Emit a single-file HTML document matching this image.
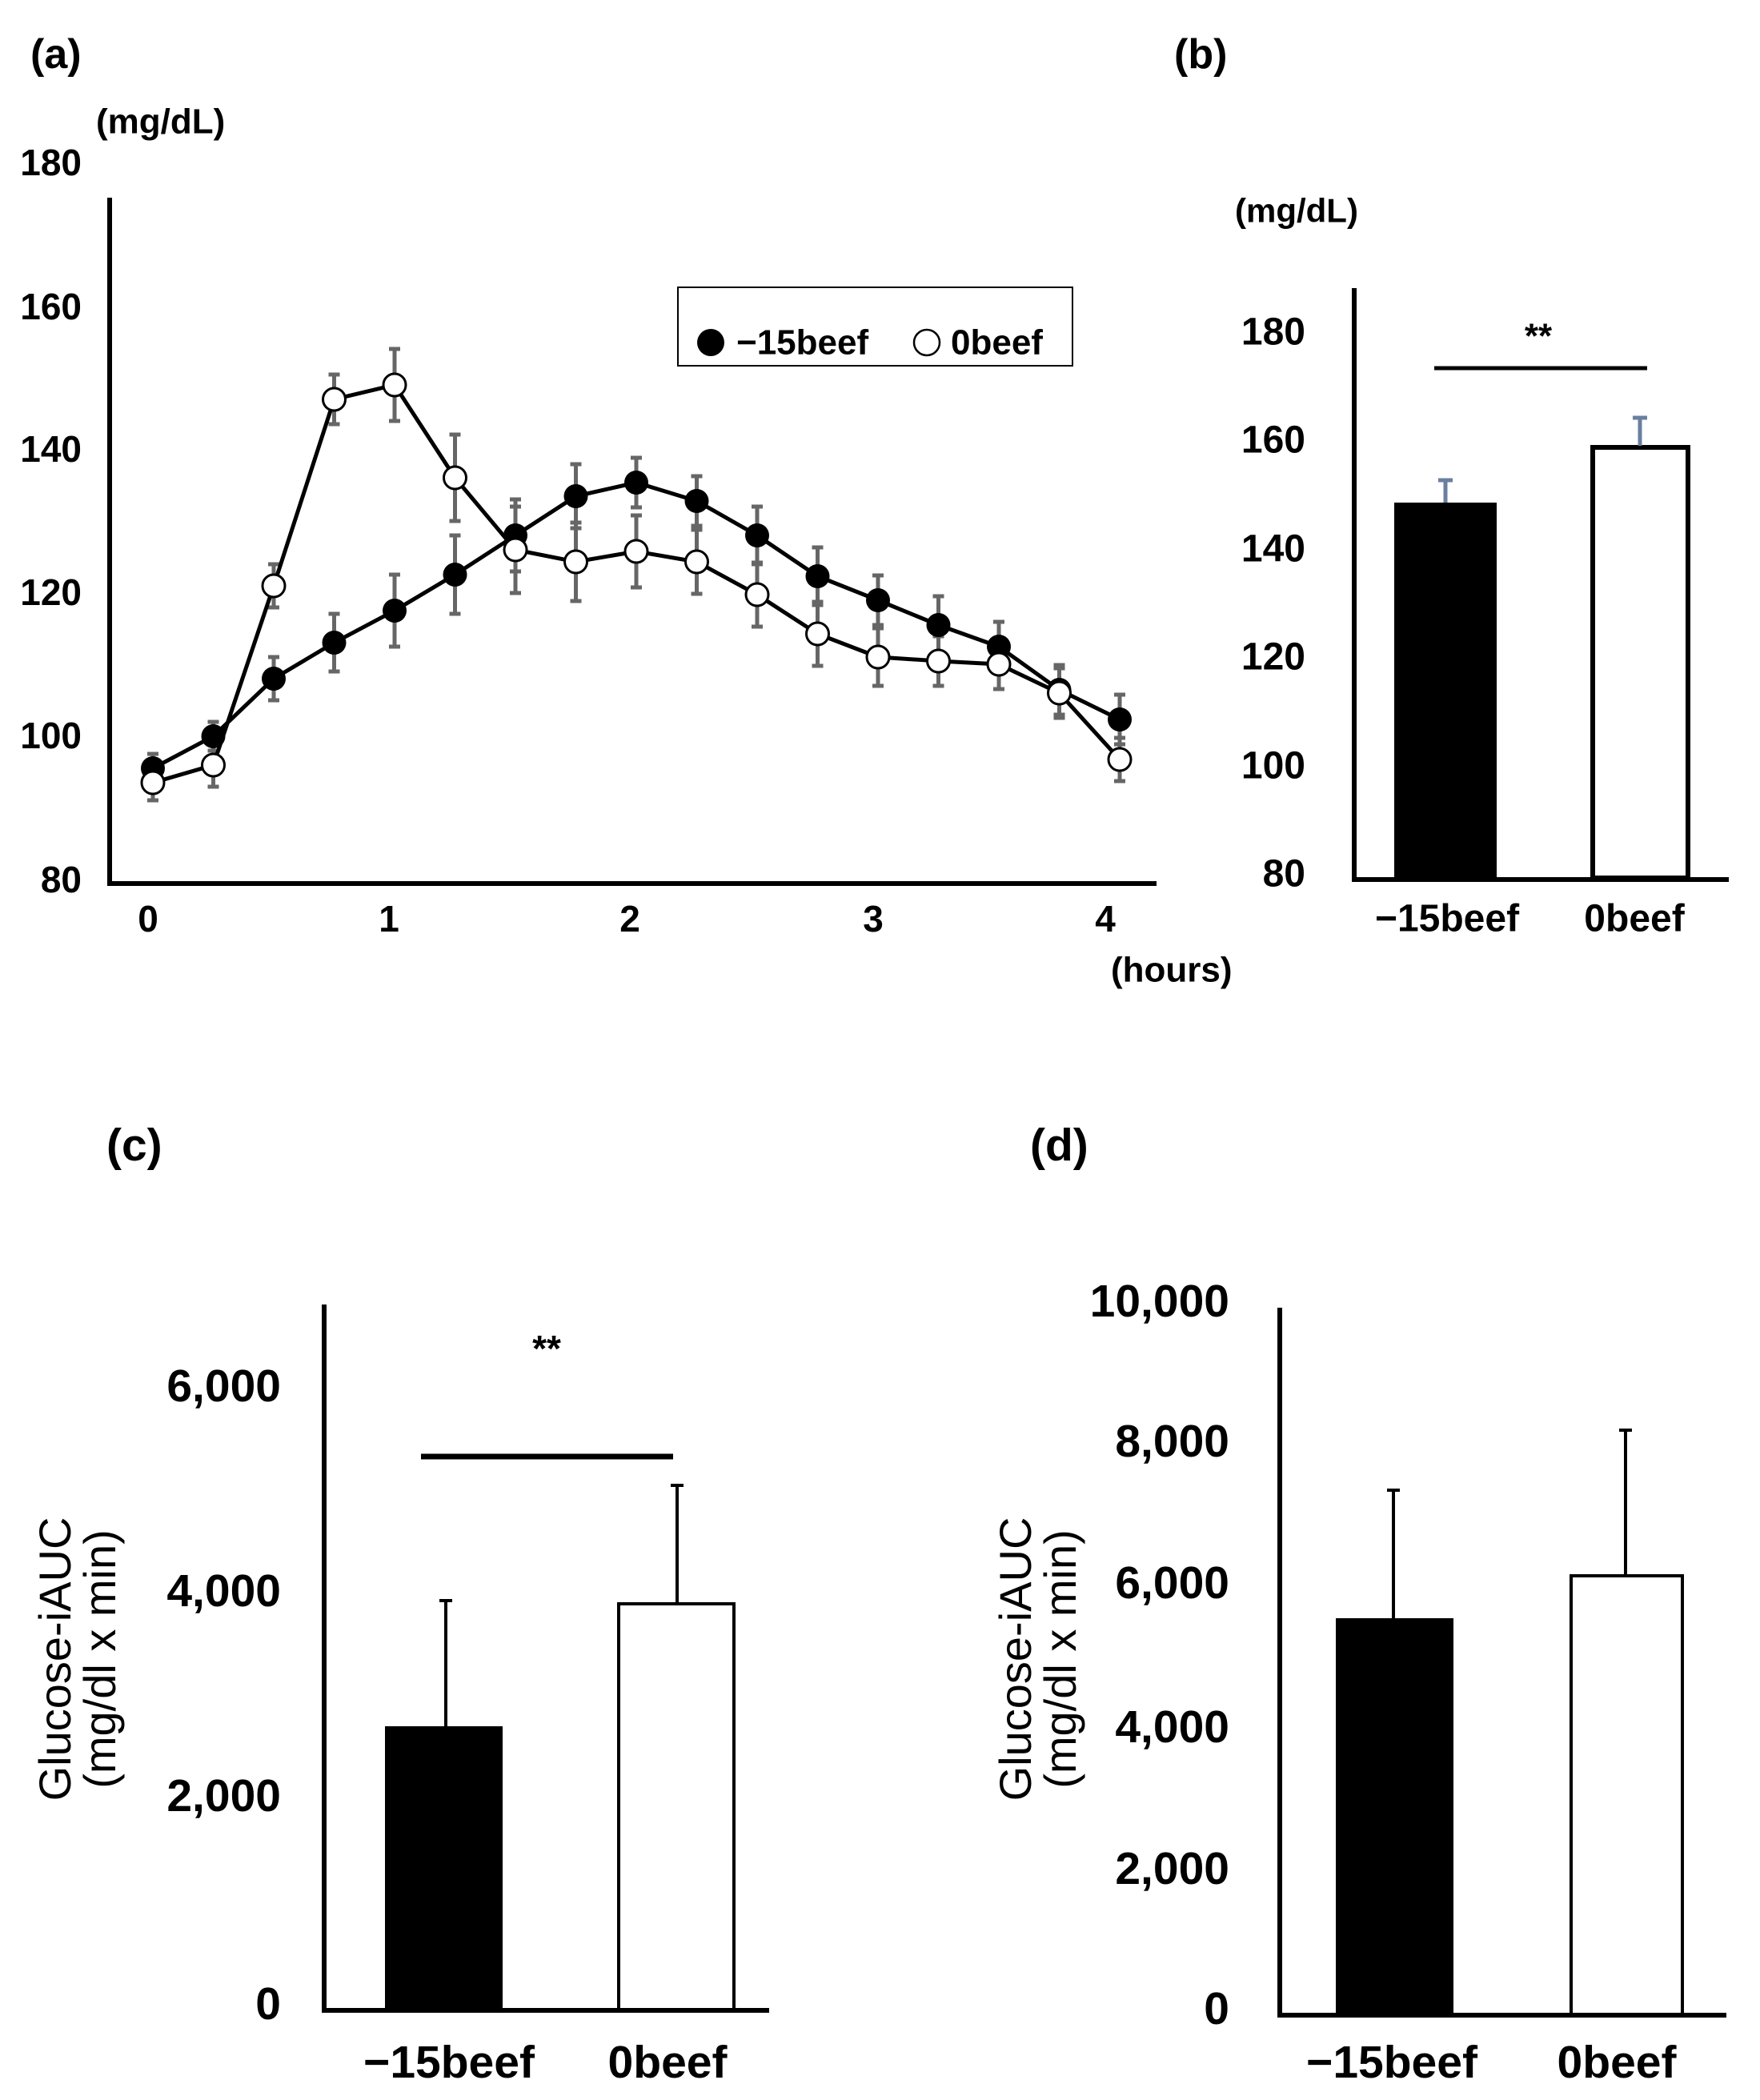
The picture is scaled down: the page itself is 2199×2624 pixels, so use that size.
<!DOCTYPE html>
<html><head><meta charset="utf-8"><style>
html,body{margin:0;padding:0;background:#fff}
svg{display:block}
text{font-family:"Liberation Sans",sans-serif;font-weight:bold;fill:#000}
</style></head><body>
<svg width="2199" height="2624" viewBox="0 0 2199 2624" xmlns="http://www.w3.org/2000/svg">
<!-- Panel a -->
<text x="38" y="68" font-size="52" dominant-baseline="central">(a)</text>
<text x="120" y="152" font-size="44" dominant-baseline="central">(mg/dL)</text>
<g font-size="46" text-anchor="end" dominant-baseline="central">
<text x="102" y="203">180</text><text x="102" y="383">160</text><text x="102" y="561">140</text>
<text x="102" y="740">120</text><text x="102" y="919">100</text><text x="102" y="1099">80</text>
</g>
<g font-size="46" text-anchor="middle" dominant-baseline="central">
<text x="185" y="1148">0</text><text x="486" y="1148">1</text><text x="787" y="1148">2</text>
<text x="1091" y="1148">3</text><text x="1381" y="1148">4</text>
</g>
<text x="1388" y="1212" font-size="44" dominant-baseline="central">(hours)</text>
<path d="M137 247 V1104 H1445" fill="none" stroke="#000" stroke-width="6"/>
<g stroke="#666" stroke-width="5" fill="none">
<path d="M191 942V978M184 942H198M184 978H198
M266.5 902V938M259.5 902H273.5M259.5 938H273.5
M342 821V875M335 821H349M335 875H349
M417.5 767V839M410.5 767H424.5M410.5 839H424.5
M493 718V808M486 718H500M486 808H500
M568.5 669V767M561.5 669H575.5M561.5 767H575.5
M644 624V714M637 624H651M637 714H651
M719.5 580V660M712.5 580H726.5M712.5 660H726.5
M795 572V634M788 572H802M788 634H802
M870.5 595V657M863.5 595H877.5M863.5 657H877.5
M946 633V705M939 633H953M939 705H953
M1021.5 684V756M1014.5 684H1028.5M1014.5 756H1028.5
M1097 719V781M1090 719H1104M1090 781H1104
M1172.5 745V817M1165.5 745H1179.5M1165.5 817H1179.5
M1248 777V839M1241 777H1255M1241 839H1255
M1323.5 831V893M1316.5 831H1330.5M1316.5 893H1330.5
M1399 868V930M1392 868H1406M1392 930H1406"/>
<path d="M191 956V1000M184 956H198M184 1000H198
M266.5 929V983M259.5 929H273.5M259.5 983H273.5
M342 705V759M335 705H349M335 759H349
M417.5 468V530M410.5 468H424.5M410.5 530H424.5
M493 436V526M486 436H500M486 526H500
M568.5 543V651M561.5 543H575.5M561.5 651H575.5
M644 633V741M637 633H651M637 741H651
M719.5 653V751M712.5 653H726.5M712.5 751H726.5
M795 644V734M788 644H802M788 734H802
M870.5 662V742M863.5 662H877.5M863.5 742H877.5
M946 703V783M939 703H953M939 783H953
M1021.5 752V832M1014.5 752H1028.5M1014.5 832H1028.5
M1097 785V857M1090 785H1104M1090 857H1104
M1172.5 795V857M1165.5 795H1179.5M1165.5 857H1179.5
M1248 799V861M1241 799H1255M1241 861H1255
M1323.5 835V897M1316.5 835H1330.5M1316.5 897H1330.5
M1399 922V976M1392 922H1406M1392 976H1406"/>
</g>
<polyline fill="none" stroke="#000" stroke-width="5" points="191,960 266.5,920 342,848 417.5,803 493,763 568.5,718 644,669 719.5,620 795,603 870.5,626 946,669 1021.5,720 1097,750 1172.5,781 1248,808 1323.5,862 1399,899"/>
<polyline fill="none" stroke="#000" stroke-width="5" points="191,978 266.5,956 342,732 417.5,499 493,481 568.5,597 644,687 719.5,702 795,689 870.5,702 946,743 1021.5,792 1097,821 1172.5,826 1248,830 1323.5,866 1399,949"/>
<g fill="#000">
<circle cx="191" cy="960" r="15"/><circle cx="266.5" cy="920" r="15"/><circle cx="342" cy="848" r="15"/><circle cx="417.5" cy="803" r="15"/><circle cx="493" cy="763" r="15"/><circle cx="568.5" cy="718" r="15"/><circle cx="644" cy="669" r="15"/><circle cx="719.5" cy="620" r="15"/><circle cx="795" cy="603" r="15"/><circle cx="870.5" cy="626" r="15"/><circle cx="946" cy="669" r="15"/><circle cx="1021.5" cy="720" r="15"/><circle cx="1097" cy="750" r="15"/><circle cx="1172.5" cy="781" r="15"/><circle cx="1248" cy="808" r="15"/><circle cx="1323.5" cy="862" r="15"/><circle cx="1399" cy="899" r="15"/>
</g>
<g fill="#fff" stroke="#000" stroke-width="3">
<circle cx="191" cy="978" r="14"/><circle cx="266.5" cy="956" r="14"/><circle cx="342" cy="732" r="14"/><circle cx="417.5" cy="499" r="14"/><circle cx="493" cy="481" r="14"/><circle cx="568.5" cy="597" r="14"/><circle cx="644" cy="687" r="14"/><circle cx="719.5" cy="702" r="14"/><circle cx="795" cy="689" r="14"/><circle cx="870.5" cy="702" r="14"/><circle cx="946" cy="743" r="14"/><circle cx="1021.5" cy="792" r="14"/><circle cx="1097" cy="821" r="14"/><circle cx="1172.5" cy="826" r="14"/><circle cx="1248" cy="830" r="14"/><circle cx="1323.5" cy="866" r="14"/><circle cx="1399" cy="949" r="14"/>
</g>
<rect x="847" y="359" width="493" height="98" fill="#fff" stroke="#000" stroke-width="2"/>
<circle cx="888" cy="428" r="17" fill="#000"/>
<text x="920" y="428" font-size="44" dominant-baseline="central">−15beef</text>
<circle cx="1158" cy="428" r="16" fill="#fff" stroke="#000" stroke-width="2.5"/>
<text x="1188" y="428" font-size="44" dominant-baseline="central">0beef</text>

<!-- Panel b -->
<text x="1467" y="68" font-size="52" dominant-baseline="central">(b)</text>
<text x="1543" y="263" font-size="42" dominant-baseline="central">(mg/dL)</text>
<g font-size="48" text-anchor="end" dominant-baseline="central">
<text x="1631" y="415">180</text><text x="1631" y="550">160</text><text x="1631" y="686">140</text>
<text x="1631" y="821">120</text><text x="1631" y="957">100</text><text x="1631" y="1092">80</text>
</g>
<rect x="1742" y="628" width="128" height="471" fill="#000"/>
<rect x="1990" y="559" width="119" height="538" fill="#fff" stroke="#000" stroke-width="6"/>
<path d="M1806 600V628M1797 600H1815M2049 522V557M2040 522H2058" stroke="#6a7fa0" stroke-width="5"/>
<path d="M1692 360V1099H2160" fill="none" stroke="#000" stroke-width="6"/>
<path d="M1792 460H2058" stroke="#000" stroke-width="5"/>
<text x="1922" y="420" font-size="44" text-anchor="middle" dominant-baseline="central">**</text>
<g font-size="48" text-anchor="middle" dominant-baseline="central">
<text x="1808" y="1148">−15beef</text><text x="2042" y="1148">0beef</text>
</g>

<!-- Panel c -->
<text x="133" y="1431" font-size="57" dominant-baseline="central">(c)</text>
<g font-size="57" text-anchor="end" dominant-baseline="central">
<text x="351" y="1732">6,000</text><text x="351" y="1988">4,000</text><text x="351" y="2244">2,000</text><text x="351" y="2504">0</text>
</g>
<g transform="translate(0,2073) rotate(-90)" font-size="56" text-anchor="middle">
<text x="0" y="88" style="font-weight:normal">Glucose-iAUC</text>
<text x="0" y="144" style="font-weight:normal">(mg/dl x min)</text>
</g>
<path d="M557 2000V2157M549 2000H565M846 1856V2002M838 1856H854" stroke="#000" stroke-width="4"/>
<rect x="481" y="2157" width="147" height="355" fill="#000"/>
<rect x="773" y="2004" width="144" height="507" fill="#fff" stroke="#000" stroke-width="4"/>
<path d="M405 1630V2512H961" fill="none" stroke="#000" stroke-width="6"/>
<path d="M526 1820H841" stroke="#000" stroke-width="7"/>
<text x="683" y="1685" font-size="46" text-anchor="middle" dominant-baseline="central">**</text>
<g font-size="57" text-anchor="middle" dominant-baseline="central">
<text x="561" y="2577">−15beef</text><text x="834" y="2577">0beef</text>
</g>

<!-- Panel d -->
<text x="1287" y="1431" font-size="57" dominant-baseline="central">(d)</text>
<g font-size="57" text-anchor="end" dominant-baseline="central">
<text x="1536" y="1626">10,000</text><text x="1536" y="1801">8,000</text><text x="1536" y="1978">6,000</text>
<text x="1536" y="2158">4,000</text><text x="1536" y="2335">2,000</text><text x="1536" y="2510">0</text>
</g>
<g transform="translate(1200,2073) rotate(-90)" font-size="56" text-anchor="middle">
<text x="0" y="88" style="font-weight:normal">Glucose-iAUC</text>
<text x="0" y="144" style="font-weight:normal">(mg/dl x min)</text>
</g>
<path d="M1741 1862V2022M1733 1862H1749M2031 1787V1969M2023 1787H2039" stroke="#000" stroke-width="4"/>
<rect x="1669" y="2022" width="147" height="496" fill="#000"/>
<rect x="1963" y="1969" width="139" height="548" fill="#fff" stroke="#000" stroke-width="4"/>
<path d="M1599 1634V2518H2157" fill="none" stroke="#000" stroke-width="6"/>
<g font-size="57" text-anchor="middle" dominant-baseline="central">
<text x="1739" y="2577">−15beef</text><text x="2020" y="2577">0beef</text>
</g>
</svg>
</body></html>
